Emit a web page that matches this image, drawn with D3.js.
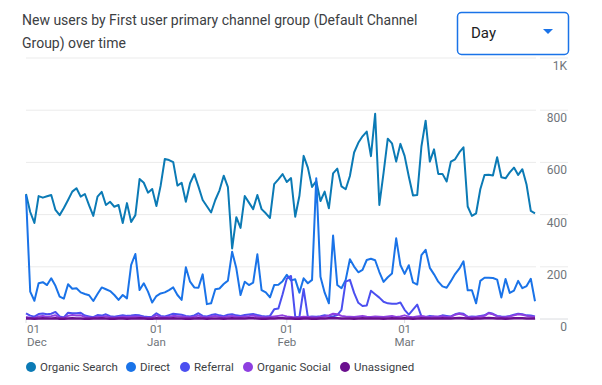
<!DOCTYPE html>
<html>
<head>
<meta charset="utf-8">
<script src="https://cdn.jsdelivr.net/npm/d3@7"></script>
<style>
  body { margin: 0; background: #fff; }
  svg { display: block; font-family: Roboto, "Noto Sans", sans-serif; }
</style>
</head>
<body>
<div id="chart"></div>
<script>
// daily new users, 1 Dec -> 1 Apr (122 days)
const startDate = new Date(2022, 11, 1);

const organicSearch = [
  479, 410, 368, 471, 465, 470, 475, 418, 398, 425,
  456, 488, 501, 469, 479, 435, 395, 469, 487, 437,
  449, 430, 437, 368, 444, 372, 398, 536, 522, 484,
  498, 433, 510, 613, 609, 601, 511, 522, 449, 520,
  555, 507, 456, 432, 408, 456, 493, 549, 505, 270,
  390, 349, 471, 446, 421, 475, 421, 405, 387, 517,
  535, 555, 525, 540, 392, 472, 625, 580, 506, 528,
  452, 488, 424, 558, 576, 508, 497, 548, 638, 675,
  700, 718, 624, 786, 437, 560, 691, 673, 603, 671,
  625, 546, 473, 475, 661, 760, 603, 650, 556, 556,
  527, 603, 612, 638, 658, 431, 395, 405, 497, 552,
  553, 550, 620, 543, 539, 562, 580, 552, 574, 514,
  414, 405
];

const direct = [
  475, 105, 70, 137, 141, 130, 156, 127, 86, 78,
  133, 116, 118, 102, 96, 91, 69, 96, 121, 114,
  107, 92, 73, 92, 79, 207, 249, 111, 137, 105,
  63, 88, 98, 102, 111, 121, 92, 73, 198, 143,
  121, 120, 171, 57, 60, 114, 117, 134, 147, 258,
  194, 92, 143, 130, 139, 248, 111, 102, 83, 130,
  131, 145, 169, 148, 152, 101, 156, 137, 150, 539,
  162, 101, 60, 320, 130, 118, 150, 229, 201, 179,
  188, 226, 231, 225, 180, 142, 160, 174, 309, 207,
  173, 206, 140, 132, 245, 265, 196, 171, 143, 125,
  120, 145, 172, 193, 221, 110, 110, 60, 146, 158,
  158, 157, 151, 82, 153, 100, 109, 146, 118, 126,
  154, 68
];

const referral = [
  22, 13, 9, 19, 21, 18, 20, 27, 10, 6,
  24, 22, 22, 24, 13, 10, 7, 15, 13, 18,
  11, 9, 12, 14, 12, 13, 15, 14, 10, 8,
  9, 22, 12, 10, 15, 20, 18, 16, 12, 10,
  14, 22, 12, 10, 15, 18, 14, 11, 16, 18,
  14, 12, 15, 17, 19, 15, 12, 10, 12, 37,
  40, 95, 155, 165, 9, 8, 115, 8, 10, 9,
  11, 14, 12, 10, 15, 35, 143, 150, 100, 62,
  50, 52, 108, 95, 82, 66, 60, 58, 58, 63,
  35, 17, 36, 55, 10, 8, 12, 10, 9, 14,
  12, 10, 18, 22, 20, 8, 10, 9, 12, 14,
  24, 20, 12, 10, 9, 12, 16, 20, 18, 14,
  13, 10
];

const organicSocial = [
  8, 5, 4, 10, 12, 9, 11, 14, 6, 4,
  12, 15, 13, 14, 8, 6, 5, 9, 8, 11,
  7, 5, 7, 9, 8, 9, 10, 9, 6, 5,
  6, 14, 8, 7, 9, 12, 11, 10, 8, 6,
  9, 13, 8, 6, 10, 12, 9, 7, 10, 12,
  9, 8, 10, 11, 13, 10, 8, 6, 8, 10,
  12, 14, 10, 8, 6, 7, 9, 8, 7, 6,
  8, 10, 14, 20, 18, 12, 10, 9, 8, 10,
  12, 9, 8, 10, 9, 8, 10, 12, 8, 10,
  14, 9, 7, 10, 12, 9, 8, 10, 9, 11,
  8, 9, 16, 20, 16, 8, 7, 8, 10, 12,
  22, 18, 10, 8, 7, 10, 14, 18, 16, 12,
  10, 8
];

const unassigned = [
  2, 2, 1, 2, 3, 2, 2, 3, 1, 1,
  2, 3, 2, 2, 1, 1, 2, 2, 3, 2,
  1, 1, 2, 2, 1, 2, 2, 3, 2, 1,
  1, 3, 2, 2, 2, 3, 2, 2, 1, 1,
  2, 3, 2, 1, 2, 2, 2, 1, 2, 3,
  2, 2, 2, 3, 3, 2, 1, 1, 2, 2,
  3, 3, 2, 2, 1, 1, 2, 2, 1, 1,
  2, 2, 3, 4, 3, 2, 2, 2, 1, 2,
  3, 2, 2, 2, 2, 1, 2, 3, 2, 2,
  3, 2, 1, 2, 3, 2, 2, 2, 2, 3,
  2, 2, 3, 4, 3, 2, 1, 2, 2, 3,
  4, 3, 2, 2, 1, 2, 3, 3, 3, 2,
  2, 2
];

const seriesNames = ['Organic Search', 'Direct', 'Referral', 'Organic Social', 'Unassigned'];
const seriesColors = ['#0b7ab5', '#1a73e8', '#4b4ff0', '#8e3fe0', '#6a0f8e'];
const seriesValues = [organicSearch, direct, referral, organicSocial, unassigned];

const yTicks = [0, 200, 400, 600, 800, 1000];
const xTickDates = [new Date(2022, 11, 1), new Date(2023, 0, 1), new Date(2023, 1, 1), new Date(2023, 2, 1)];
const xTickLabels = [['01', 'Dec'], ['01', 'Jan'], ['01', 'Feb'], ['01', 'Mar']];

const width = 602, height = 385;
const margin = { top: 58, right: 67, bottom: 66, left: 26 };

const svg = d3.select('#chart').append('svg')
  .attr('width', width)
  .attr('height', height);

const dayOf = i => d3.timeDay.offset(startDate, i);

const x = d3.scaleTime()
  .domain([startDate, dayOf(organicSearch.length - 1)])
  .range([margin.left, width - margin.right]);

const y = d3.scaleLinear()
  .domain([0, 1000])
  .range([height - margin.bottom, margin.top]);

// title
const title = svg.append('text')
  .attr('x', 22)
  .attr('fill', '#3c4043')
  .attr('font-size', '14px');
title.append('tspan').attr('x', 22).attr('y', 25).text('New users by First user primary channel group (Default Channel');
title.append('tspan').attr('x', 22).attr('y', 48).text('Group) over time');

// dropdown
svg.append('rect')
  .attr('x', 457.5).attr('y', 12.5)
  .attr('width', 111).attr('height', 42)
  .attr('rx', 4)
  .attr('fill', '#fff')
  .attr('stroke', '#1a73e8')
  .attr('stroke-width', 1.5);
svg.append('text')
  .attr('x', 471).attr('y', 38)
  .attr('font-size', '15px')
  .attr('fill', '#202124')
  .text('Day');
svg.append('path')
  .attr('d', 'M543,29 L553,29 L548,34 Z')
  .attr('fill', '#1a73e8');

// gridlines + y labels (right side)
const grid = svg.append('g');
grid.selectAll('line.main')
  .data(yTicks)
  .join('line')
  .attr('x1', margin.left).attr('x2', width - margin.right + 1)
  .attr('y1', d => y(d)).attr('y2', d => y(d))
  .attr('stroke', d => d === 0 ? '#dadce0' : '#ebebeb')
  .attr('stroke-width', 1);
grid.selectAll('line.side')
  .data(yTicks)
  .join('line')
  .attr('x1', width - margin.right + 5).attr('x2', 568)
  .attr('y1', d => y(d)).attr('y2', d => y(d))
  .attr('stroke', d => d === 0 ? '#dadce0' : '#ebebeb');
grid.selectAll('text')
  .data(yTicks)
  .join('text')
  .attr('x', 567)
  .attr('y', d => y(d) + 12)
  .attr('text-anchor', 'end')
  .attr('font-size', '12px')
  .attr('fill', '#70757a')
  .text(d => d3.format('~s')(d).replace('k', 'K'));

// x axis labels
const xg = svg.append('g');
xTickDates.forEach((d, i) => {
  const anchor = i === 0 ? 'start' : 'middle';
  const tx = i === 0 ? x(d) + 1 : x(d);
  xg.append('line')
    .attr('x1', x(d)).attr('x2', x(d))
    .attr('y1', y(0)).attr('y2', y(0) + 4)
    .attr('stroke', '#dadce0');
  xg.append('text')
    .attr('x', tx).attr('y', 333)
    .attr('text-anchor', anchor)
    .attr('font-size', '11.5px')
    .attr('fill', '#70757a')
    .text(xTickLabels[i][0]);
  xg.append('text')
    .attr('x', tx).attr('y', 346)
    .attr('text-anchor', anchor)
    .attr('font-size', '11.5px')
    .attr('fill', '#70757a')
    .text(xTickLabels[i][1]);
});

// lines
const line = d3.line()
  .x((d, i) => x(dayOf(i)))
  .y(d => y(d));

svg.append('g')
  .selectAll('path')
  .data(seriesValues)
  .join('path')
  .attr('d', d => line(d))
  .attr('fill', 'none')
  .attr('stroke', (d, i) => seriesColors[i])
  .attr('stroke-width', (d, i) => i === 4 ? 2.5 : 2)
  .attr('stroke-linejoin', 'round');

// legend
const legendX = [31, 131, 185, 248, 345];
const legend = svg.append('g');
seriesNames.forEach((name, i) => {
  legend.append('circle')
    .attr('cx', legendX[i]).attr('cy', 367)
    .attr('r', 5)
    .attr('fill', seriesColors[i]);
  legend.append('text')
    .attr('x', legendX[i] + 9).attr('y', 371)
    .attr('font-size', '11.5px')
    .attr('fill', '#3c4043')
    .text(name);
});
</script>
</body>
</html>
